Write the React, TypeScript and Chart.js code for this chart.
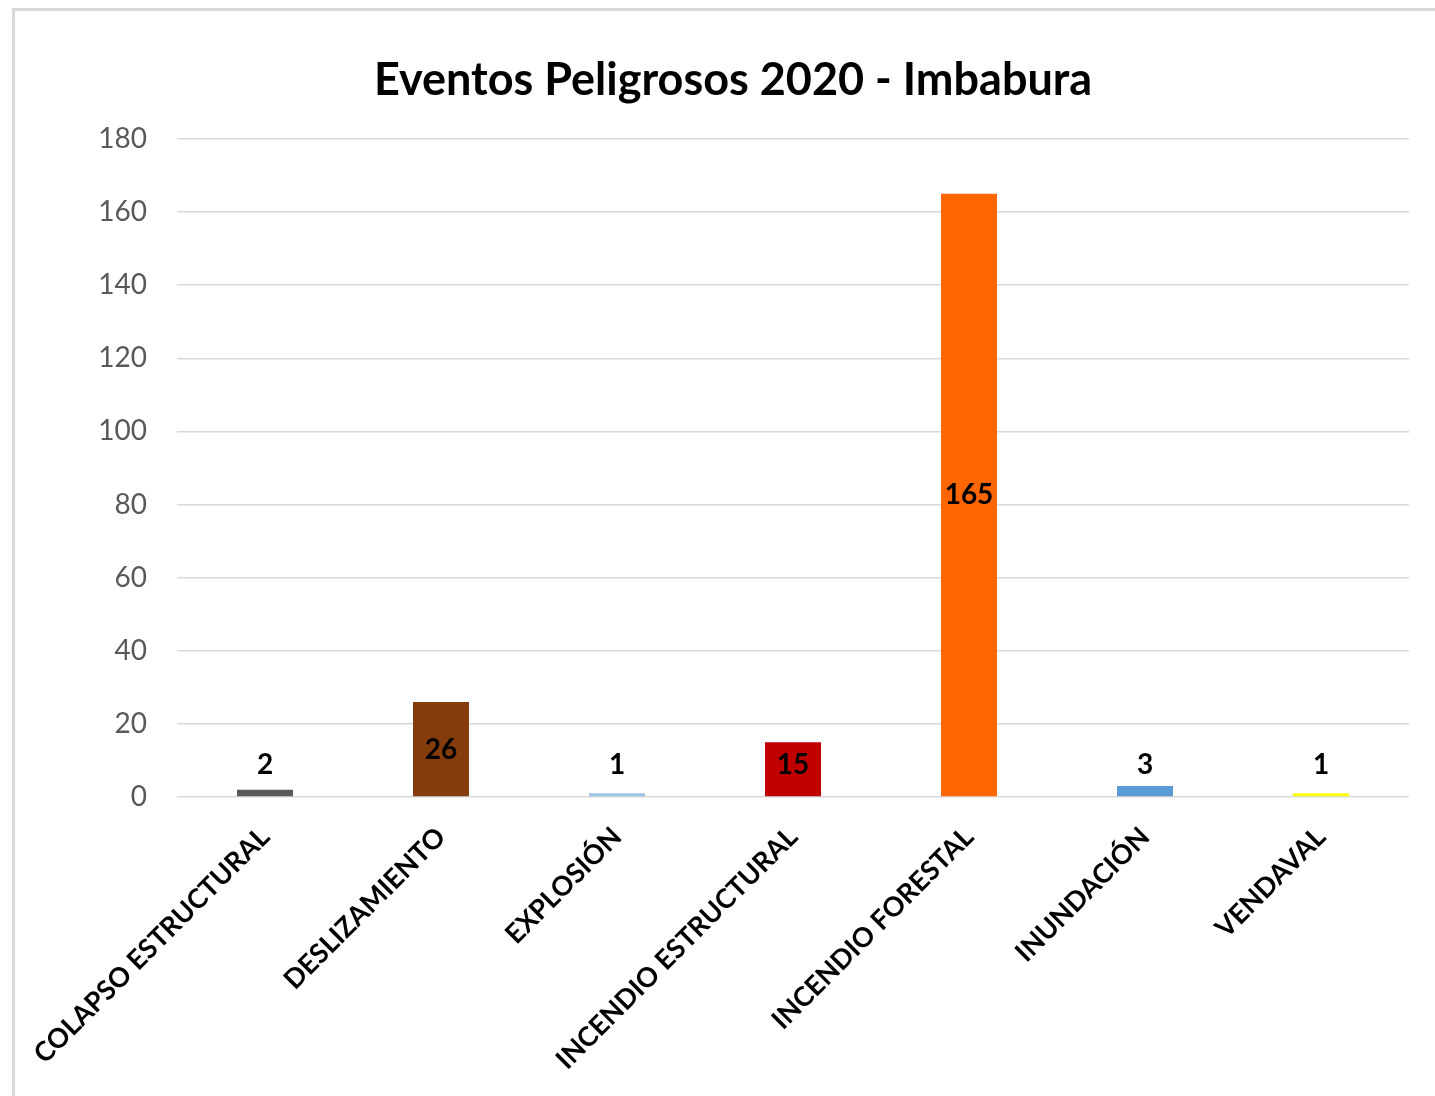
import React, { useEffect, useRef } from "react";
import { Chart, registerables } from "chart.js";

Chart.register(...registerables);

const categories = [
  "COLAPSO ESTRUCTURAL",
  "DESLIZAMIENTO",
  "EXPLOSIÓN",
  "INCENDIO ESTRUCTURAL",
  "INCENDIO FORESTAL",
  "INUNDACIÓN",
  "VENDAVAL",
];
const values = [2, 26, 1, 15, 165, 3, 1];
const barColors = ["#595959", "#843C0C", "#9DC3E6", "#C00000", "#FF6600", "#5B9BD5", "#FFFF00"];
const titleText = "Eventos Peligrosos 2020 - Imbabura";
const yMin = 0;
const yMax = 180;
const yStep = 20;

const FONT = "Lato, 'Open Sans', sans-serif";

const titlePlugin = {
  id: "customTitle",
  afterDraw(chart: any) {
    const ctx = chart.ctx;
    ctx.save();
    ctx.font = `bold 45px ${FONT}`;
    ctx.fillStyle = "#000000";
    ctx.textAlign = "center";
    ctx.textBaseline = "middle";
    ctx.fillText(titleText, 733, 80);
    ctx.restore();
  },
};

const dataLabelPlugin = {
  id: "dataLabels",
  afterDatasetsDraw(chart: any) {
    const ctx = chart.ctx;
    const meta = chart.getDatasetMeta(0);
    const yScale = chart.scales.y;
    const base = yScale.getPixelForValue(0);
    ctx.save();
    ctx.font = `bold 28px ${FONT}`;
    ctx.fillStyle = "#000000";
    ctx.textAlign = "center";
    ctx.textBaseline = "middle";
    meta.data.forEach((bar: any, i: number) => {
      const center = (bar.y + base) / 2;
      const y = Math.min(center, base - 32);
      ctx.fillText(String(values[i]), bar.x, y);
    });
    ctx.restore();
  },
};

export default function App() {
  const canvasRef = useRef<HTMLCanvasElement | null>(null);

  useEffect(() => {
    if (!canvasRef.current) return;
    const chart = new Chart(canvasRef.current, {
      type: "bar",
      data: {
        labels: categories,
        datasets: [
          {
            data: values,
            backgroundColor: barColors,
            borderWidth: 0,
            barPercentage: 0.318,
            categoryPercentage: 1,
          },
        ],
      },
      options: {
        animation: false,
        responsive: false,
        maintainAspectRatio: false,
        layout: { padding: { top: 139, left: 0, right: 26, bottom: 0 } },
        plugins: {
          legend: { display: false },
          tooltip: { enabled: false },
          title: { display: false },
        },
        scales: {
          x: {
            grid: { display: false, drawTicks: false },
            border: { display: false },
            ticks: {
              autoSkip: false,
              minRotation: 45,
              maxRotation: 45,
              padding: 24,
              color: "#000000",
              font: { family: FONT, size: 27, weight: "bold" },
            },
            afterFit(scale: any) {
              scale.height = 1096 - 797;
            },
          },
          y: {
            min: yMin,
            max: yMax,
            grid: { color: "#d9d9d9", lineWidth: 1.5, drawTicks: false },
            border: { display: false },
            ticks: {
              stepSize: yStep,
              padding: 30,
              color: "#595959",
              font: { family: FONT, size: 28 },
            },
            afterFit(scale: any) {
              scale.width = 177;
            },
          },
        },
      },
      plugins: [titlePlugin, dataLabelPlugin],
    });
    return () => chart.destroy();
  }, []);

  return (
    <div style={{ position: "fixed", left: 0, top: 0, width: 1435, height: 1096, background: "#ffffff", overflow: "hidden" }}>
      <canvas ref={canvasRef} width={1435} height={1096} style={{ position: "absolute", left: 0, top: 0, width: 1435, height: 1096 }} />
      <div
        style={{
          position: "absolute",
          left: 12,
          top: 8,
          width: 1500,
          height: 1200,
          borderTop: "3px solid #d9d9d9",
          borderLeft: "3px solid #d9d9d9",
          pointerEvents: "none",
        }}
      />
    </div>
  );
}
